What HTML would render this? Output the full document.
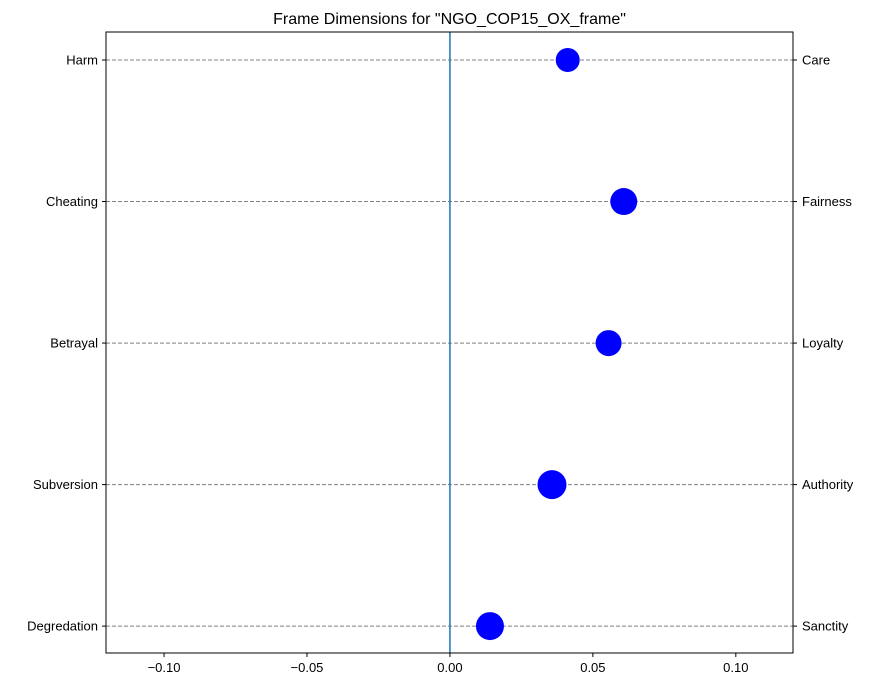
<!DOCTYPE html>
<html><head><meta charset="utf-8"><style>
body{margin:0;background:#fff;}
svg text{font-family:"Liberation Sans","DejaVu Sans",sans-serif;}
</style></head><body>
<svg id="chart" width="877" height="687" viewBox="0 0 877 687"></svg>
<script>
const leftLabels=["Harm","Cheating","Betrayal","Subversion","Degredation"];
const rightLabels=["Care","Fairness","Loyalty","Authority","Sanctity"];
const values=[0.0412,0.0608,0.0555,0.0357,0.014];
const sizes=[12,13.5,13,14.5,14];
const xTicks=[-0.10,-0.05,0.00,0.05,0.10];
const xTickLabels=["\u22120.10","\u22120.05","0.00","0.05","0.10"];

const NS="http://www.w3.org/2000/svg";
const svg=document.getElementById('chart');
const L=106,R=793,T=32,B=653;
const xmin=-0.1203,xmax=0.12,ymin=-0.19,ymax=4.198;
const xs=v=>L+(v-xmin)/(xmax-xmin)*(R-L);
const ys=v=>B-(v-ymin)/(ymax-ymin)*(B-T);
function mk(tag,attrs,parent){const e=document.createElementNS(NS,tag);for(const k in attrs)e.setAttribute(k,attrs[k]);(parent||svg).appendChild(e);return e;}

const title=mk('text',{x:(L+R)/2,y:24,'text-anchor':'middle','font-size':16,fill:'#000'});


title.textContent='Frame Dimensions for "NGO_COP15_OX_frame"';

const n=leftLabels.length;
for(let i=0;i<n;i++){
  const y=ys(n-1-i);
  const g=mk('line',{x1:L,x2:R,y1:y,y2:y,stroke:'#808080','stroke-width':1,'stroke-dasharray':'4,2'});
  
  
  mk('line',{x1:L-4,x2:L,y1:y,y2:y,stroke:'#000'});
  mk('line',{x1:R,x2:R+4,y1:y,y2:y,stroke:'#000'});
  const lt=mk('text',{x:L-8,y:y+4.5,'text-anchor':'end','font-size':13,fill:'#000'});
  
  
  lt.textContent=leftLabels[i];
  const rt=mk('text',{x:R+9,y:y+4.5,'text-anchor':'start','font-size':13,fill:'#000'});
  
  
  rt.textContent=rightLabels[i];
}
const zl=mk('line',{x1:xs(0),x2:xs(0),y1:T,y2:B,stroke:'#1f77b4','stroke-width':1.5});



for(let i=0;i<n;i++){
  const c=mk('circle',{cx:xs(values[i]),cy:ys(n-1-i),r:sizes[i],fill:'#0000ff'});
  
  
}

xTicks.forEach((v,i)=>{
  const x=xs(v);
  mk('line',{x1:x,x2:x,y1:B,y2:B+4,stroke:'#000'});
  const t=mk('text',{x:x,y:B+19,'text-anchor':'middle','font-size':13,fill:'#000'});
  
  
  t.textContent=xTickLabels[i];
});
const frame=mk('rect',{x:L,y:T,width:R-L,height:B-T,fill:'none',stroke:'#000','stroke-width':1});


</script>
</body></html>
